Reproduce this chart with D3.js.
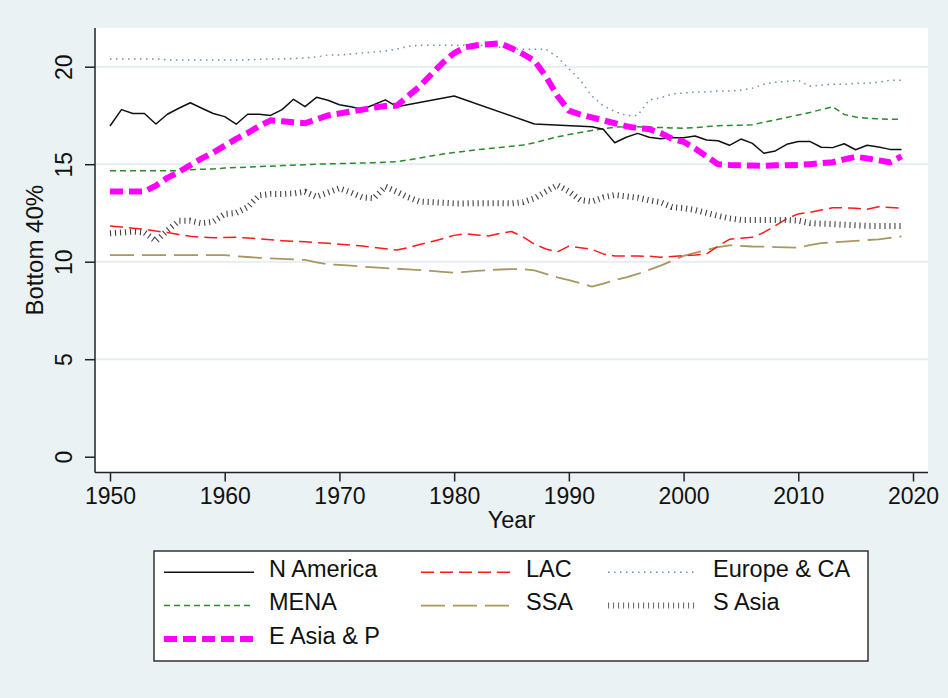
<!DOCTYPE html>
<html>
<head>
<meta charset="utf-8">
<script src="https://cdn.jsdelivr.net/npm/d3@7"></script>
<style>
  html, body { margin: 0; padding: 0; background: #eaf2f3; }
  svg { display: block; font-family: "Liberation Sans", Arial, sans-serif; }
</style>
</head>
<body>
<svg id="chart" width="948" height="698"></svg>
<script>
// ---------- data ----------
const years = d3.range(1950, 2020);
const xTicks = [1950, 1960, 1970, 1980, 1990, 2000, 2010, 2020];
const yTicks = [0, 5, 10, 15, 20];
const seriesNames = ["N America", "LAC", "Europe & CA", "MENA", "SSA", "S Asia", "E Asia & P"];

const nAmerica = [16.96, 17.8, 17.6, 17.6, 17.06, 17.56, 17.87, 18.15, 17.87, 17.6,
  17.44, 17.05, 17.56, 17.56, 17.5, 17.8, 18.33, 17.95, 18.43, 18.28,
  18.05, 17.95, 17.82, 18.05, 18.3, 17.95, null, null, null, null,
  18.5, null, null, null, null, null, null, 17.06, null, null,
  null, null, 16.92, 16.79, 16.1, 16.38, 16.58, 16.38, 16.3, 16.36,
  16.36, 16.45, 16.24, 16.2, 15.97, 16.29, 16.07, 15.56, 15.68, 16.02,
  16.16, 16.17, 15.87, 15.85, 16.05, 15.74, 15.97, 15.88, 15.76, 15.76];

const lac = [11.83, 11.78, 11.72, 11.66, 11.57, 11.5, 11.4, 11.3, 11.26, 11.23,
  11.24, 11.25, 11.22, 11.17, 11.12, 11.08, 11.05, 11.02, 10.98, 10.94,
  10.9, 10.85, 10.8, 10.73, 10.66, 10.6, 10.72, 10.88, 11.02, 11.18,
  11.35, 11.43, 11.37, 11.32, 11.45, 11.55, 11.28, 10.9, 10.65, 10.5,
  10.8, 10.72, 10.63, 10.4, 10.29, 10.29, 10.29, 10.28, 10.23, 10.27,
  10.31, 10.34, 10.4, 10.8, 11.15, 11.2, 11.25, 11.5, 11.85, 12.2,
  12.45, 12.53, 12.65, 12.77, 12.76, 12.74, 12.69, 12.82, 12.78, 12.74];

const europeCA = [20.4, 20.4, 20.4, 20.4, 20.4, 20.35, 20.35, 20.35, 20.35, 20.35,
  20.35, 20.35, 20.35, 20.38, 20.4, 20.4, 20.42, 20.45, 20.5, 20.6,
  20.6, 20.65, 20.7, 20.75, 20.8, 20.9, 21.05, 21.1, 21.1, 21.1,
  21.1, 21.1, 21.1, 21.1, 21.0, 20.9, 20.9, 20.9, 20.9, 20.5,
  19.9, 19.3, 18.5, 18.0, 17.7, 17.5, 17.5, 18.3, 18.4, 18.6,
  18.65, 18.7, 18.7, 18.75, 18.75, 18.8, 18.9, 19.1, 19.2, 19.25,
  19.3, 19.0, 19.05, 19.1, 19.1, 19.15, 19.15, 19.2, 19.3, 19.3];

const mena = [14.67, 14.67, 14.67, 14.67, 14.67, 14.67, 14.67, 14.72, 14.74, 14.76,
  14.8, 14.83, 14.85, 14.88, 14.9, 14.93, 14.95, 14.97, 15.0, 15.02,
  15.03, 15.05, 15.06, 15.08, 15.1, 15.13, 15.22, 15.32, 15.42, 15.52,
  15.6, 15.67, 15.74, 15.8, 15.86, 15.92, 15.98, 16.1, 16.25, 16.4,
  16.52, 16.63, 16.73, 16.82, 16.9, 16.92, 16.92, 16.9, 16.88, 16.86,
  16.84, 16.88, 16.93, 16.97, 16.99, 17.0, 17.02, 17.15, 17.27, 17.4,
  17.52, 17.65, 17.8, 17.95, 17.55, 17.42, 17.36, 17.33, 17.3, 17.3];

const ssa = [10.34, 10.34, 10.34, 10.34, 10.34, 10.34, 10.34, 10.34, 10.34, 10.34,
  10.34, 10.28, 10.24, 10.2, 10.17, 10.14, 10.12, 10.09, 9.97, 9.86,
  9.84, 9.8, 9.75, 9.71, 9.67, 9.64, 9.61, 9.57, 9.53, 9.48,
  9.44, 9.48, 9.53, 9.57, 9.6, 9.62, 9.62, 9.55, 9.38, 9.2,
  9.05, 8.9, 8.72, 8.88, 9.05, 9.2, 9.37, 9.58, 9.8, 10.05,
  10.3, 10.45, 10.6, 10.75, 10.84, 10.81, 10.78, 10.77, 10.75, 10.73,
  10.72, 10.85, 10.95, 10.99, 11.03, 11.07, 11.11, 11.15, 11.22, 11.3];

const sAsia = [11.46, 11.5, 11.54, 11.5, 11.06, 11.6, 12.1, 12.1, 11.97, 12.05,
  12.45, 12.5, 12.8, 13.4, 13.47, 13.47, 13.5, 13.59, 13.33, 13.55,
  13.76, 13.55, 13.3, 13.25, 13.85, 13.59, 13.3, 13.08, 13.05, 13.02,
  12.99, 12.99, 13.0, 13.0, 13.0, 12.99, 13.05, 13.25, 13.6, 13.93,
  13.6, 13.16, 13.08, 13.3, 13.42, 13.35, 13.28, 13.15, 13.05, 12.8,
  12.75, 12.65, 12.5, 12.35, 12.22, 12.14, 12.14, 12.14, 12.14, 12.14,
  12.1, 11.98, 11.95, 11.93, 11.9, 11.87, 11.84, 11.83, 11.83, 11.83];

const eAsiaP = [13.6, 13.6, 13.6, 13.6, 13.9, 14.3, 14.6, 14.95, 15.3, 15.6,
  15.95, 16.3, 16.6, 16.95, 17.25, 17.2, 17.15, 17.1, 17.3, 17.5,
  17.6, 17.7, 17.8, 17.9, 17.98, 18.0, 18.5, 19.0, 19.6, 20.2,
  20.7, 21.0, 21.1, 21.15, 21.2, 20.95, 20.65, 20.3, 19.5, 18.5,
  17.75, 17.55, 17.4, 17.25, 17.1, 16.95, 16.85, 16.8, 16.6, 16.3,
  16.15, 15.8, 15.4, 15.0, 14.96, 14.95, 14.93, 14.92, 14.94, 14.95,
  14.96, 15.0, 15.05, 15.1, 15.25, 15.38, 15.3, 15.2, 15.1, 15.4];

const seriesValues = [nAmerica, lac, europeCA, mena, ssa, sAsia, eAsiaP];

// ---------- styles ----------
const styles = {
  "N America":   { color: "#111111", width: 1.5, dash: null },
  "LAC":         { color: "#ff1a1a", width: 1.5, dash: "13 6" },
  "Europe & CA": { color: "#6d8db3", width: 1.5, dash: "1.5 4.5" },
  "MENA":        { color: "#2b8a2b", width: 1.5, dash: "6 4" },
  "SSA":         { color: "#a8975f", width: 1.8, dash: "24 8" },
  "S Asia":      { color: "#404040", width: 6,   dash: "1.1 3.9" },
  "E Asia & P":  { color: "#ff00ff", width: 6,   dash: "13 6" }
};
// draw order (E Asia on top)
const drawOrder = ["Europe & CA", "MENA", "SSA", "LAC", "S Asia", "N America", "E Asia & P"];

// ---------- layout ----------
const svg = d3.select("#chart");
const plot = { left: 95, right: 928, top: 28, bottom: 472.5 };
const x = d3.scaleLinear().domain([1950, 2020]).range([110, 913]);
const y = d3.scaleLinear().domain([0, 20]).range([456.7, 66.7]);

svg.append("rect").attr("x", 0).attr("y", 0).attr("width", 948).attr("height", 698).attr("fill", "#eaf2f3");
svg.append("rect").attr("x", plot.left).attr("y", plot.top)
  .attr("width", plot.right - plot.left).attr("height", plot.bottom - plot.top).attr("fill", "#ffffff");

// gridlines
svg.append("g").selectAll("line").data(yTicks.filter(d => d > 0)).join("line")
  .attr("x1", plot.left).attr("x2", plot.right)
  .attr("y1", d => y(d)).attr("y2", d => y(d))
  .attr("stroke", "#e6eef1").attr("stroke-width", 2);

// x axis
const xAxis = d3.axisBottom(x).tickValues(xTicks).tickFormat(d3.format("d")).tickSize(9).tickPadding(6);
const gx = svg.append("g").attr("transform", `translate(0,${plot.bottom})`).call(xAxis);
gx.select(".domain").remove();
gx.selectAll(".tick line").attr("stroke", "#222").attr("stroke-width", 1.5);
gx.selectAll(".tick text").attr("font-size", 23).attr("fill", "#111")
  .attr("font-family", "Liberation Sans, Arial, sans-serif");
svg.append("line").attr("x1", plot.left).attr("x2", plot.right)
  .attr("y1", plot.bottom).attr("y2", plot.bottom).attr("stroke", "#222").attr("stroke-width", 1.5);

// y axis
const yAxis = d3.axisLeft(y).tickValues(yTicks).tickFormat(d3.format("d")).tickSize(10).tickPadding(0);
const gy = svg.append("g").attr("transform", `translate(${plot.left},0)`).call(yAxis);
gy.select(".domain").remove();
gy.selectAll(".tick line").attr("stroke", "#222").attr("stroke-width", 1.5);
gy.selectAll(".tick text")
  .attr("font-size", 23).attr("fill", "#111")
  .attr("font-family", "Liberation Sans, Arial, sans-serif")
  .attr("x", null).attr("dy", null)
  .attr("text-anchor", "middle")
  .attr("transform", "translate(-23,0) rotate(-90)");
svg.append("line").attr("x1", plot.left).attr("x2", plot.left)
  .attr("y1", plot.top).attr("y2", plot.bottom).attr("stroke", "#222").attr("stroke-width", 1.5);

// axis titles
svg.append("text").attr("x", (plot.left + plot.right) / 2).attr("y", 528)
  .attr("text-anchor", "middle").attr("font-size", 23.5).attr("fill", "#111").text("Year");
svg.append("text").attr("transform", `translate(43,${(plot.top + plot.bottom) / 2}) rotate(-90)`)
  .attr("text-anchor", "middle").attr("font-size", 24).attr("fill", "#111").text("Bottom 40%");

// lines
const line = d3.line().x(d => x(d.year)).y(d => y(d.value));
const linesG = svg.append("g");
drawOrder.forEach(name => {
  const vals = seriesValues[seriesNames.indexOf(name)];
  const pts = years.map((yr, i) => ({ year: yr, value: vals[i] })).filter(d => d.value != null);
  const st = styles[name];
  linesG.append("path").datum(pts).attr("d", line)
    .attr("fill", "none").attr("stroke", st.color).attr("stroke-width", st.width)
    .attr("stroke-dasharray", st.dash).attr("stroke-linejoin", "round");
});

// legend
const legend = svg.append("g");
legend.append("rect").attr("x", 154).attr("y", 551).attr("width", 714).attr("height", 110)
  .attr("fill", "#ffffff").attr("stroke", "#333").attr("stroke-width", 1.5);
const colX = [164, 421, 608];
const rowY = [572.3, 605.6, 639];
seriesNames.forEach((name, i) => {
  const c = i % 3, r = Math.floor(i / 3);
  const st = styles[name];
  legend.append("line").attr("x1", colX[c]).attr("x2", colX[c] + 90)
    .attr("y1", rowY[r]).attr("y2", rowY[r])
    .attr("stroke", st.color).attr("stroke-width", name === "S Asia" ? 6 : st.width)
    .attr("stroke-dasharray", st.dash)
    .attr("opacity", name === "S Asia" ? 0.75 : 1);
  legend.append("text").attr("x", colX[c] + 105).attr("y", rowY[r] + 4.5)
    .attr("font-size", 23.5).attr("fill", "#111").text(name);
});
</script>
</body>
</html>
